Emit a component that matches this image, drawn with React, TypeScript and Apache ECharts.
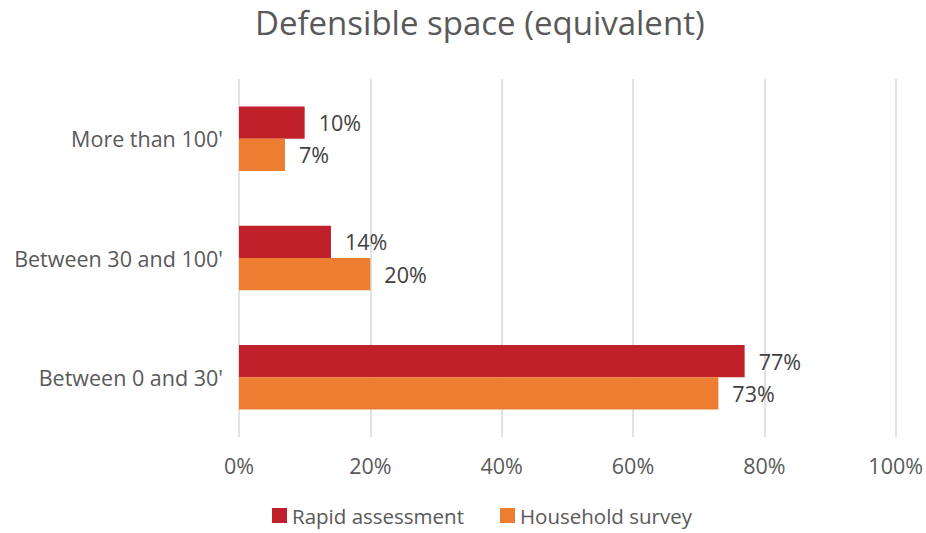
import React, { useEffect, useRef } from "react";
import * as echarts from "echarts";

const categories = ["More than 100'", "Between 30 and 100'", "Between 0 and 30'"];
const rapidAssessment = [10, 14, 77];
const householdSurvey = [7, 20, 73];
const xTicks = [0, 20, 40, 60, 80, 100];

export default function App() {
  const ref = useRef<HTMLDivElement>(null);
  useEffect(() => {
    const chart = echarts.init(ref.current!, null, { renderer: "svg" });
    const font = "'Open Sans', Lato, sans-serif";
    const dataLabel = {
      show: true,
      position: "right",
      distance: 14,
      formatter: "{c}%",
      fontFamily: font,
      fontSize: 21.5,
      color: "#404040",
    };
    chart.setOption({
      animation: false,
      backgroundColor: "#ffffff",
      title: {
        text: "Defensible space (equivalent)",
        left: 250,
        top: 1,
        textStyle: { fontFamily: font, fontSize: 33, fontWeight: "normal", color: "#595959" },
      },
      legend: {
        data: ["Rapid assessment", "Household survey"],
        bottom: 2,
        left: 267,
        itemWidth: 15,
        itemHeight: 15,
        itemGap: 36,
        icon: "rect",
        textStyle: { fontFamily: font, fontSize: 20.5, color: "#595959" },
      },
      grid: { left: 239, right: 29, top: 79, bottom: 96 },
      xAxis: {
        type: "value",
        min: 0,
        max: 100,
        interval: 20,
        axisLine: { show: false },
        axisTick: { show: false },
        splitLine: { lineStyle: { color: "#d9d9d9", width: 1.5 } },
        axisLabel: {
          fontFamily: font,
          fontSize: 21.5,
          color: "#595959",
          margin: 17,
          formatter: (v: number) => (xTicks.includes(v) ? v + "%" : ""),
        },
      },
      yAxis: {
        type: "category",
        data: categories,
        inverse: true,
        axisLine: { show: false },
        axisTick: { show: false },
        axisLabel: { fontFamily: font, fontSize: 21.5, color: "#595959", margin: 16 },
      },
      series: [
        {
          name: "Rapid assessment",
          type: "bar",
          data: rapidAssessment,
          itemStyle: { color: "#C0202A" },
          barGap: "0%",
          barCategoryGap: "46%",
          label: dataLabel,
        },
        {
          name: "Household survey",
          type: "bar",
          data: householdSurvey,
          itemStyle: { color: "#ED7D31" },
          barGap: "0%",
          barCategoryGap: "46%",
          label: dataLabel,
        },
      ],
    });
    return () => chart.dispose();
  }, []);
  return <div ref={ref} style={{ width: 926, height: 533, position: "absolute", left: 0, top: 0 }} />;
}
